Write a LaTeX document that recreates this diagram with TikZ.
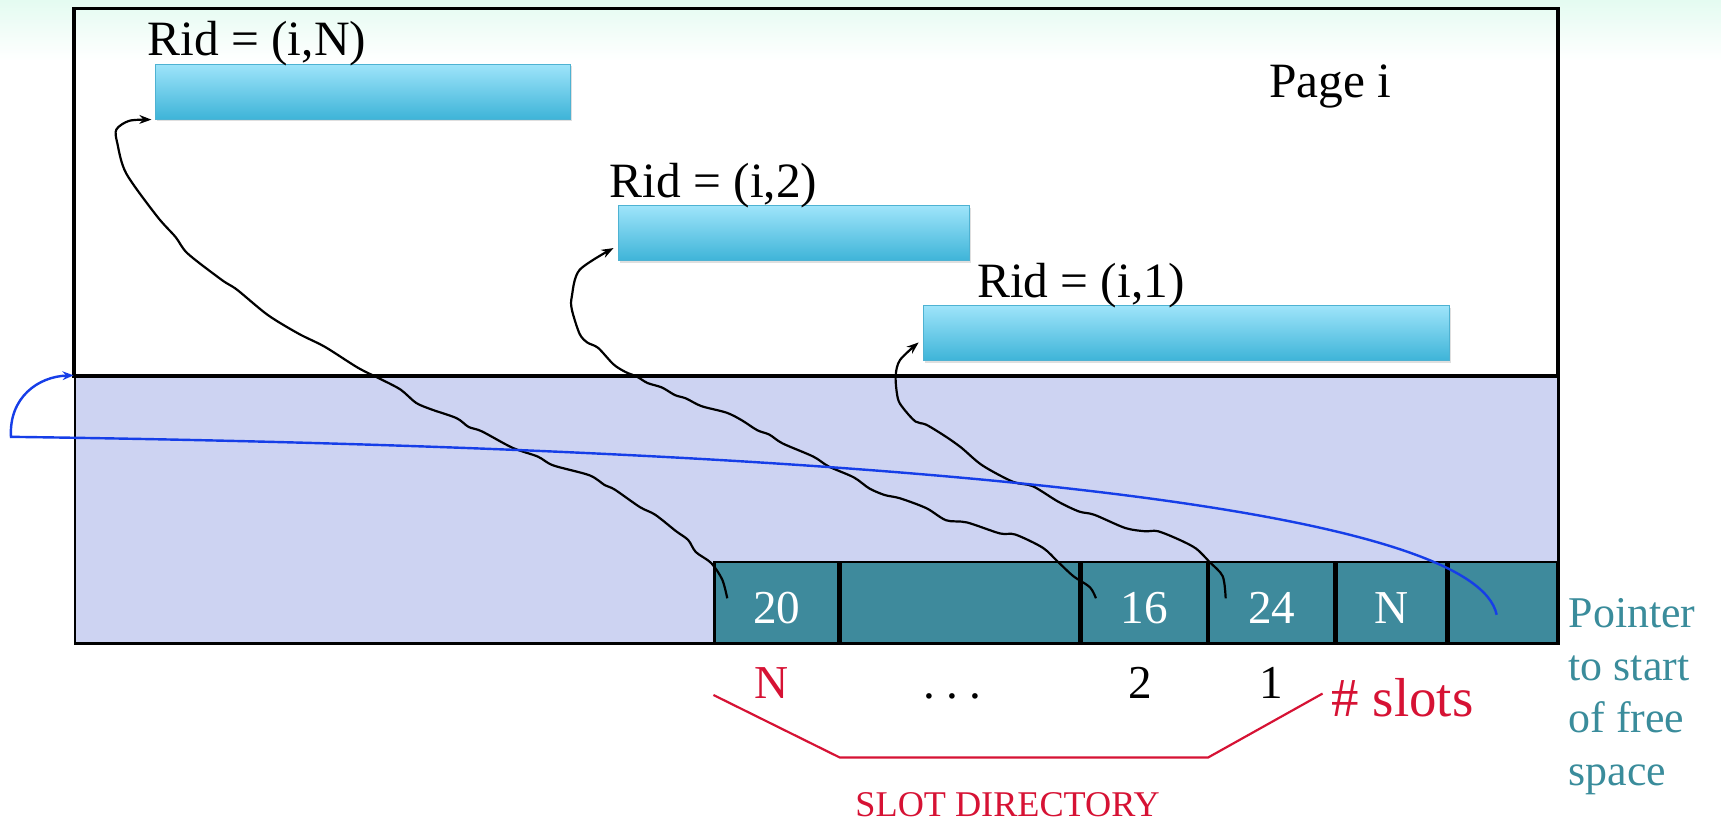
\documentclass[tikz,border=0pt]{standalone}
\usepackage{fontspec}
\setmainfont{Liberation Serif}
\definecolor{mintbg}{RGB}{228,251,241}
\definecolor{freelav}{RGB}{205,211,242}
\definecolor{slotteal}{RGB}{62,138,156}
\definecolor{rectop}{RGB}{158,228,250}
\definecolor{recbot}{RGB}{62,180,216}
\definecolor{recedge}{RGB}{78,178,210}
\definecolor{dirred}{RGB}{214,18,52}
\definecolor{ptrblue}{RGB}{22,62,232}
\definecolor{ptrteal}{RGB}{58,140,155}
\usepackage{tikz}
\usetikzlibrary{arrows.meta, positioning, shadows}

\begin{document}
\begin{tikzpicture}[x=1pt, y=-1pt,
  record/.style={draw=recedge, line width=1pt, top color=rectop, bottom color=recbot, minimum height=50pt, inner sep=0pt, anchor=north west, drop shadow={opacity=0.25, shadow xshift=1.5pt, shadow yshift=-2pt}},
  ridtext/.style={font=\fontsize{45}{54}\selectfont, inner sep=0pt, anchor=base},
  slotcell/.style={draw=black, line width=2.2pt, fill=slotteal, text=white, minimum height=74pt, inner sep=0pt, text height=38pt, text depth=0pt, font=\fontsize{43}{50}\selectfont},
  idx/.style={font=\fontsize{43}{50}\selectfont, inner sep=0pt, anchor=base},
  ridlink/.style={line width=2pt, -{Stealth[length=11pt, width=8pt]}},
  ptrlink/.style={draw=ptrblue, line width=2.2pt, -{Stealth[length=10pt, width=8pt]}}
]
  \useasboundingbox (0,0) rectangle (1568,749);
  \shade[top color=mintbg, bottom color=white] (0,0) rectangle (1568,55);

  % the page and its free space
  \node[draw=black, line width=3.5pt, minimum width=1352pt, minimum height=335pt, inner sep=0pt, anchor=north west] (page) at (66,6) {};
  \node[draw=black, line width=2.4pt, fill=freelav, minimum width=1352pt, minimum height=243pt, inner sep=0pt, anchor=north west] (free) at (67,342) {};
  \node[ridtext, anchor=base east] (pagelbl) at (1268,89) {Page i};

  % records
  \node[record, minimum width=378pt] (recN) at (141,58) {};
  \node[record, minimum width=320pt] (rec2) at (563,187) {};
  \node[record, minimum width=479pt] (rec1) at (841,278) {};
  \node[ridtext] (ridN) at (234,51) {Rid = (i,N)};
  \node[ridtext] (rid2) at (650,180) {Rid = (i,2)};
  \node[ridtext, anchor=base west] (rid1) at (890,271) {Rid = (i,1)};

  % slot directory
  \node[slotcell, minimum width=113pt, anchor=north west] (c20) at (650,511) {20};
  \node[slotcell, minimum width=217pt, right=0pt of c20] (cdots) {};
  \node[slotcell, minimum width=114pt, right=0pt of cdots] (c16) {16};
  \node[slotcell, minimum width=114pt, right=0pt of c16] (c24) {24};
  \node[slotcell, minimum width=100pt, right=0pt of c24] (cN) {N};
  \node[slotcell, minimum width=99pt, right=0pt of cN] (cfree) {};

  \node[idx, text=dirred] (idxN) at ([xshift=-5pt, yshift=-49pt]c20.south) {N};
  \node[idx] (idxdots) at ([xshift=-7pt, yshift=-49pt]cdots.south) {.\hspace{10pt}.\hspace{10pt}.};
  \node[idx] (idx2) at ([xshift=-4pt, yshift=-49pt]c16.south) {2};
  \node[idx] (idx1) at ([yshift=-49pt]c24.south) {1};
  \node[font=\fontsize{50}{60}\selectfont, text=dirred, inner sep=0pt, anchor=base west] (nslots) at (1213,653) {\# slots};

  \draw[dirred, line width=2pt] ([yshift=-46pt]c20.south west) -- ([yshift=-103pt]cdots.south west) -- ([yshift=-103pt]c24.south west) -- ([xshift=-8pt, yshift=4pt]nslots.west);
  \node[font=\fontsize{33}{40}\selectfont, text=dirred, inner sep=0pt, anchor=base] (slotdir) at (918,744) {SLOT DIRECTORY};

  \node[font=\fontsize{40}{48}\selectfont, text=ptrteal, inner sep=0pt, align=left, anchor=north west] (ptrtxt) at (1429,545) {Pointer\\to start\\of free\\space};

  % slot pointers
  \draw[ridlink] plot[smooth, tension=0.5] coordinates {([xshift=-45pt, yshift=4pt]c20.center) (658,528) (648,513) (634,503) (627,492) (616,484) (597,469) (583,462) (560,446) (551,442) (537,433) (504,424) (490,416) (467,408) (439,393) (427,389) (416,381) (393,373) (379,367) (365,355) (346,345) (326,335) (296,316) (272,304) (244,287) (216,264) (202,255) (171,231) (160,216) (143,197) (115,158) (107,131) (106,118) (118,110) ([xshift=-3pt]recN.south west)};
  \draw[ridlink] plot[smooth, tension=0.5] coordinates {([xshift=-44pt, yshift=4pt]c16.center) (993,535) (978,525) (964,512) (950,499) (925,487) (911,486) (881,476) (862,474) (844,463) (820,454) (806,451) (792,445) (778,435) (755,425) (741,416) (713,404) (701,396) (690,392) (676,383) (662,376) (639,370) (625,363) (615,360) (603,353) (590,349) (580,343) (570,339) (559,332) (545,317) (535,312) (528,304) (521,282) (521,270) (528,246) ([xshift=-4pt, yshift=12pt]rec2.south west)};
  \draw[ridlink] plot[smooth, tension=0.5] coordinates {([xshift=-42pt, yshift=4pt]c24.center) (1114,525) (1102,512) (1090,500) (1075,492) (1055,484) (1043,484) (1025,481) (997,469) (983,466) (964,457) (941,443) (923,439) (895,424) (876,408) (862,398) (844,387) (834,384) (823,372) (818,363) (816,343) (820,328) ([xshift=-4pt, yshift=17pt]rec1.south west)};

  % free space pointer
  \draw[ptrlink] ([xshift=-6pt, yshift=-11pt]cfree.center) .. controls (1345,470) and (900,410) .. (10,398) .. controls (8,362) and (35,343) .. (free.north west);
\end{tikzpicture}
\end{document}
